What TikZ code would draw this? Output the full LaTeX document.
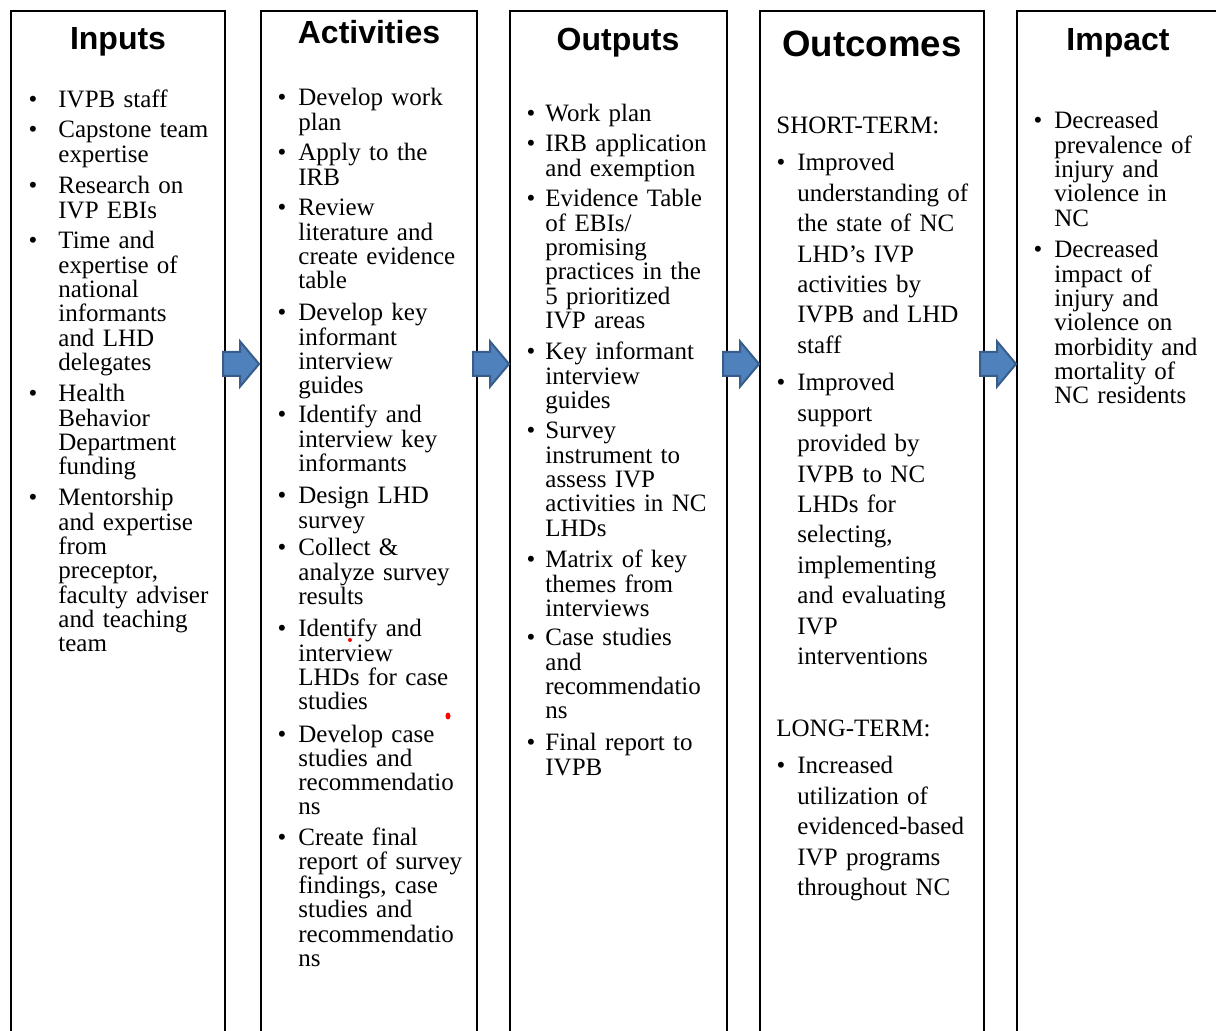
\documentclass[tikz,border=0pt]{standalone}
\usepackage{fontspec}
\setmainfont{Liberation Serif}
\newfontfamily\headfont{Liberation Sans}
\usetikzlibrary{shapes.arrows}

\definecolor{arrowfill}{HTML}{4F81BD}
\definecolor{arrowline}{HTML}{385D8A}

\begin{document}
\begin{tikzpicture}[x=0.5pt, y=-0.5pt,
	colbox/.style={draw=black, line width=1.4pt},
	head/.style={anchor=base, inner sep=0pt, font=\headfont\bfseries\fontsize{16}{19}\selectfont},
	itm/.style={anchor=base west, inner sep=0pt, text width=100pt, align=left, font=\fontsize{12.5}{12.15}\selectfont},
	itmwide/.style={itm, font=\fontsize{12.5}{15.2}\selectfont},
	dot/.style={anchor=base, inner sep=0pt, font=\fontsize{12.5}{12.15}\selectfont},
	flowarrow/.style={single arrow, draw=arrowline, fill=arrowfill, line width=1pt, inner xsep=0pt, inner ysep=5.5pt,
		minimum height=18pt, single arrow head extend=5.25pt, single arrow tip angle=100}]
	\useasboundingbox (0,0) rectangle (1216,1031);
	\clip (0,0) rectangle (1216,1031);

	% the five columns, open below
	\draw[colbox] (11,11) rectangle (225,1060);
	\draw[colbox] (261,11) rectangle (477,1060);
	\draw[colbox] (510,11) rectangle (727,1060);
	\draw[colbox] (760,11) rectangle (984,1060);
	\draw[colbox] (1017,11) rectangle (1220,1060);

	% headings
	\node[head] (inputs) at (118,50) {Inputs};
	\node[head] (activities) at (369,44) {Activities};
	\node[head] (outputs) at (618,51) {Outputs};
	\node[head, font=\headfont\bfseries\fontsize{18.3}{21}\selectfont] (outcomes) at (872,57) {Outcomes};
	\node[head] (impact) at (1118,51) {Impact};

	% inputs
	\node[dot] (in1dot) at (33,108) {\textbullet};
	\node[itm] (in1) at (58,108) {IVPB staff};
	\node[dot] (in2dot) at (33,138) {\textbullet};
	\node[itm] (in2) at (58,138) {Capstone team\\expertise};
	\node[dot] (in3dot) at (33,194) {\textbullet};
	\node[itm] (in3) at (58,194) {Research on\\IVP EBIs};
	\node[dot] (in4dot) at (33,249) {\textbullet};
	\node[itm] (in4) at (58,249) {Time and\\expertise of\\national\\informants\\and LHD\\delegates};
	\node[dot] (in5dot) at (33,402) {\textbullet};
	\node[itm] (in5) at (58,402) {Health\\Behavior\\Department\\funding};
	\node[dot] (in6dot) at (33,506) {\textbullet};
	\node[itm] (in6) at (58,506) {Mentorship\\and expertise\\from\\preceptor,\\faculty adviser\\and teaching\\team};

	% activities
	\node[dot] (ac1dot) at (282,106) {\textbullet};
	\node[itm] (ac1) at (298,106) {Develop work\\plan};
	\node[dot] (ac2dot) at (282,161) {\textbullet};
	\node[itm] (ac2) at (298,161) {Apply to the\\IRB};
	\node[dot] (ac3dot) at (282,216) {\textbullet};
	\node[itm] (ac3) at (298,216) {Review\\literature and\\create evidence\\table};
	\node[dot] (ac4dot) at (282,321) {\textbullet};
	\node[itm] (ac4) at (298,321) {Develop key\\informant\\interview\\guides};
	\node[dot] (ac5dot) at (282,423) {\textbullet};
	\node[itm] (ac5) at (298,423) {Identify and\\interview key\\informants};
	\node[dot] (ac6dot) at (282,504) {\textbullet};
	\node[itm] (ac6) at (298,504) {Design LHD\\survey};
	\node[dot] (ac7dot) at (282,556) {\textbullet};
	\node[itm] (ac7) at (298,556) {Collect \&\\analyze survey\\results};
	\node[dot] (ac8dot) at (282,637) {\textbullet};
	\node[itm] (ac8) at (298,637) {Identify and\\interview\\LHDs for case\\studies};
	\node[dot] (ac9dot) at (282,742) {\textbullet};
	\node[itm] (ac9) at (298,742) {Develop case\\studies and\\recommendatio\\ns};
	\node[dot] (ac10dot) at (282,845) {\textbullet};
	\node[itm] (ac10) at (298,845) {Create final\\report of survey\\findings, case\\studies and\\recommendatio\\ns};

	% outputs
	\node[dot] (ou1dot) at (531,122) {\textbullet};
	\node[itm] (ou1) at (545,122) {Work plan};
	\node[dot] (ou2dot) at (531,152) {\textbullet};
	\node[itm] (ou2) at (545,152) {IRB application\\and exemption};
	\node[dot] (ou3dot) at (531,207) {\textbullet};
	\node[itm] (ou3) at (545,207) {Evidence Table\\of EBIs/\\promising\\practices in the\\5 prioritized\\IVP areas};
	\node[dot] (ou4dot) at (531,360) {\textbullet};
	\node[itm] (ou4) at (545,360) {Key informant\\interview\\guides};
	\node[dot] (ou5dot) at (531,439) {\textbullet};
	\node[itm] (ou5) at (545,439) {Survey\\instrument to\\assess IVP\\activities in NC\\LHDs};
	\node[dot] (ou6dot) at (531,568) {\textbullet};
	\node[itm] (ou6) at (545,568) {Matrix of key\\themes from\\interviews};
	\node[dot] (ou7dot) at (531,646) {\textbullet};
	\node[itm] (ou7) at (545,646) {Case studies\\and\\recommendatio\\ns};
	\node[dot] (ou8dot) at (531,751) {\textbullet};
	\node[itm] (ou8) at (545,751) {Final report to\\IVPB};

	% outcomes
	\node[itm] (short) at (776,134) {SHORT-TERM:};
	\node[dot] (oc1dot) at (781,171) {\textbullet};
	\node[itmwide] (oc1) at (797,171) {Improved\\understanding of\\the state of NC\\LHD's IVP\\activities by\\IVPB and LHD\\staff};
	\node[dot] (oc2dot) at (781,391) {\textbullet};
	\node[itmwide] (oc2) at (797,391) {Improved\\support\\provided by\\IVPB to NC\\LHDs for\\selecting,\\implementing\\and evaluating\\IVP\\interventions};
	\node[itm] (long) at (776,737) {LONG-TERM:};
	\node[dot] (oc3dot) at (781,774) {\textbullet};
	\node[itmwide] (oc3) at (797,774) {Increased\\utilization of\\evidenced-based\\IVP programs\\throughout NC};

	% impact
	\node[dot] (im1dot) at (1038,129) {\textbullet};
	\node[itm] (im1) at (1054,129) {Decreased\\prevalence of\\injury and\\violence in\\NC};
	\node[dot] (im2dot) at (1038,258) {\textbullet};
	\node[itm] (im2) at (1054,258) {Decreased\\impact of\\injury and\\violence on\\morbidity and\\mortality of\\NC residents};

	% block arrows between the columns
	\node[flowarrow] (arr1) at (236,364) {};
	\node[flowarrow] (arr2) at (486,364) {};
	\node[flowarrow] (arr3) at (736,364) {};
	\node[flowarrow] (arr4) at (993,364) {};

	% stray red marks
	\fill[red] (350,640) circle (2);
	\fill[red] (448,716) ellipse (2.5 and 3.5);
\end{tikzpicture}
\end{document}
